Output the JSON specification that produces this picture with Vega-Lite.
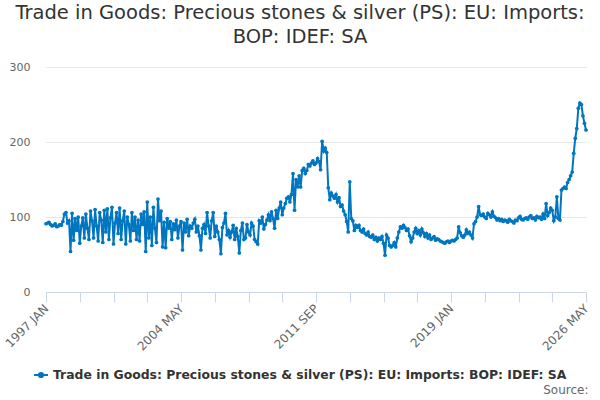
{
"$schema": "https://vega.github.io/schema/vega-lite/v6.json",
"width": 540, "height": 225,
"autosize": "none",
"padding": {"left": 46, "top": 67, "right": 14, "bottom": 108},
"background": "white",
"title": {"text": ["Trade in Goods: Precious stones & silver (PS): EU: Imports:", "BOP: IDEF: SA"], "anchor": "middle", "frame": "group", "dx": -16, "offset": 14, "font": "DejaVu Sans", "fontSize": 19.5, "fontWeight": "normal", "color": "#333333", "lineHeight": 24},
"config": {"view": {"stroke": null}},
"data": {"values": [
{"m":"1997 JAN","v":91},{"m":"1997 FEB","v":92},{"m":"1997 MAR","v":93},{"m":"1997 APR","v":90},{"m":"1997 MAY","v":88},{"m":"1997 JUN","v":89},{"m":"1997 JUL","v":91},{"m":"1997 AUG","v":87},{"m":"1997 SEP","v":88},{"m":"1997 OCT","v":90},{"m":"1997 NOV","v":89},{"m":"1997 DEC","v":94},
{"m":"1998 JAN","v":104},{"m":"1998 FEB","v":106},{"m":"1998 MAR","v":92},{"m":"1998 APR","v":95},{"m":"1998 MAY","v":54},{"m":"1998 JUN","v":105},{"m":"1998 JUL","v":69},{"m":"1998 AUG","v":98},{"m":"1998 SEP","v":82},{"m":"1998 OCT","v":100},{"m":"1998 NOV","v":65},{"m":"1998 DEC","v":88},
{"m":"1999 JAN","v":99},{"m":"1999 FEB","v":72},{"m":"1999 MAR","v":104},{"m":"1999 APR","v":85},{"m":"1999 MAY","v":70},{"m":"1999 JUN","v":108},{"m":"1999 JUL","v":95},{"m":"1999 AUG","v":72},{"m":"1999 SEP","v":110},{"m":"1999 OCT","v":88},{"m":"1999 NOV","v":68},{"m":"1999 DEC","v":106},
{"m":"2000 JAN","v":96},{"m":"2000 FEB","v":66},{"m":"2000 MAR","v":109},{"m":"2000 APR","v":80},{"m":"2000 MAY","v":111},{"m":"2000 JUN","v":70},{"m":"2000 JUL","v":99},{"m":"2000 AUG","v":113},{"m":"2000 SEP","v":64},{"m":"2000 OCT","v":92},{"m":"2000 NOV","v":106},{"m":"2000 DEC","v":78},
{"m":"2001 JAN","v":112},{"m":"2001 FEB","v":70},{"m":"2001 MAR","v":95},{"m":"2001 APR","v":108},{"m":"2001 MAY","v":64},{"m":"2001 JUN","v":100},{"m":"2001 JUL","v":90},{"m":"2001 AUG","v":68},{"m":"2001 SEP","v":106},{"m":"2001 OCT","v":82},{"m":"2001 NOV","v":100},{"m":"2001 DEC","v":70},
{"m":"2002 JAN","v":96},{"m":"2002 FEB","v":68},{"m":"2002 MAR","v":104},{"m":"2002 APR","v":90},{"m":"2002 MAY","v":107},{"m":"2002 JUN","v":54},{"m":"2002 JUL","v":120},{"m":"2002 AUG","v":72},{"m":"2002 SEP","v":100},{"m":"2002 OCT","v":62},{"m":"2002 NOV","v":113},{"m":"2002 DEC","v":85},
{"m":"2003 JAN","v":66},{"m":"2003 FEB","v":124},{"m":"2003 MAR","v":95},{"m":"2003 APR","v":108},{"m":"2003 MAY","v":60},{"m":"2003 JUN","v":93},{"m":"2003 JUL","v":59},{"m":"2003 AUG","v":98},{"m":"2003 SEP","v":85},{"m":"2003 OCT","v":94},{"m":"2003 NOV","v":70},{"m":"2003 DEC","v":91},
{"m":"2004 JAN","v":83},{"m":"2004 FEB","v":96},{"m":"2004 MAR","v":72},{"m":"2004 APR","v":88},{"m":"2004 MAY","v":94},{"m":"2004 JUN","v":56},{"m":"2004 JUL","v":92},{"m":"2004 AUG","v":80},{"m":"2004 SEP","v":97},{"m":"2004 OCT","v":75},{"m":"2004 NOV","v":88},{"m":"2004 DEC","v":85},
{"m":"2005 JAN","v":92},{"m":"2005 FEB","v":97},{"m":"2005 MAR","v":80},{"m":"2005 APR","v":88},{"m":"2005 MAY","v":75},{"m":"2005 JUN","v":56},{"m":"2005 JUL","v":85},{"m":"2005 AUG","v":90},{"m":"2005 SEP","v":78},{"m":"2005 OCT","v":106},{"m":"2005 NOV","v":88},{"m":"2005 DEC","v":72},
{"m":"2006 JAN","v":95},{"m":"2006 FEB","v":106},{"m":"2006 MAR","v":74},{"m":"2006 APR","v":88},{"m":"2006 MAY","v":80},{"m":"2006 JUN","v":70},{"m":"2006 JUL","v":51},{"m":"2006 AUG","v":86},{"m":"2006 SEP","v":92},{"m":"2006 OCT","v":105},{"m":"2006 NOV","v":76},{"m":"2006 DEC","v":82},
{"m":"2007 JAN","v":73},{"m":"2007 FEB","v":80},{"m":"2007 MAR","v":89},{"m":"2007 APR","v":70},{"m":"2007 MAY","v":85},{"m":"2007 JUN","v":74},{"m":"2007 JUL","v":52},{"m":"2007 AUG","v":82},{"m":"2007 SEP","v":92},{"m":"2007 OCT","v":70},{"m":"2007 NOV","v":72},{"m":"2007 DEC","v":90},
{"m":"2008 JAN","v":80},{"m":"2008 FEB","v":76},{"m":"2008 MAR","v":92},{"m":"2008 APR","v":88},{"m":"2008 MAY","v":70},{"m":"2008 JUN","v":67},{"m":"2008 JUL","v":64},{"m":"2008 AUG","v":95},{"m":"2008 SEP","v":92},{"m":"2008 OCT","v":100},{"m":"2008 NOV","v":84},{"m":"2008 DEC","v":90},
{"m":"2009 JAN","v":96},{"m":"2009 FEB","v":103},{"m":"2009 MAR","v":95},{"m":"2009 APR","v":107},{"m":"2009 MAY","v":98},{"m":"2009 JUN","v":85},{"m":"2009 JUL","v":109},{"m":"2009 AUG","v":98},{"m":"2009 SEP","v":112},{"m":"2009 OCT","v":120},{"m":"2009 NOV","v":103},{"m":"2009 DEC","v":112},
{"m":"2010 JAN","v":118},{"m":"2010 FEB","v":125},{"m":"2010 MAR","v":127},{"m":"2010 APR","v":120},{"m":"2010 MAY","v":130},{"m":"2010 JUN","v":158},{"m":"2010 JUL","v":109},{"m":"2010 AUG","v":150},{"m":"2010 SEP","v":140},{"m":"2010 OCT","v":155},{"m":"2010 NOV","v":140},{"m":"2010 DEC","v":162},
{"m":"2011 JAN","v":165},{"m":"2011 FEB","v":158},{"m":"2011 MAR","v":162},{"m":"2011 APR","v":170},{"m":"2011 MAY","v":168},{"m":"2011 JUN","v":172},{"m":"2011 JUL","v":175},{"m":"2011 AUG","v":170},{"m":"2011 SEP","v":172},{"m":"2011 OCT","v":178},{"m":"2011 NOV","v":174},{"m":"2011 DEC","v":163},
{"m":"2012 JAN","v":201},{"m":"2012 FEB","v":188},{"m":"2012 MAR","v":192},{"m":"2012 APR","v":186},{"m":"2012 MAY","v":139},{"m":"2012 JUN","v":123},{"m":"2012 JUL","v":132},{"m":"2012 AUG","v":128},{"m":"2012 SEP","v":125},{"m":"2012 OCT","v":130},{"m":"2012 NOV","v":120},{"m":"2012 DEC","v":126},
{"m":"2013 JAN","v":114},{"m":"2013 FEB","v":116},{"m":"2013 MAR","v":108},{"m":"2013 APR","v":103},{"m":"2013 MAY","v":94},{"m":"2013 JUN","v":80},{"m":"2013 JUL","v":147},{"m":"2013 AUG","v":98},{"m":"2013 SEP","v":95},{"m":"2013 OCT","v":82},{"m":"2013 NOV","v":89},{"m":"2013 DEC","v":86},
{"m":"2014 JAN","v":89},{"m":"2014 FEB","v":82},{"m":"2014 MAR","v":80},{"m":"2014 APR","v":84},{"m":"2014 MAY","v":78},{"m":"2014 JUN","v":76},{"m":"2014 JUL","v":80},{"m":"2014 AUG","v":74},{"m":"2014 SEP","v":73},{"m":"2014 OCT","v":76},{"m":"2014 NOV","v":70},{"m":"2014 DEC","v":73},
{"m":"2015 JAN","v":68},{"m":"2015 FEB","v":72},{"m":"2015 MAR","v":70},{"m":"2015 APR","v":74},{"m":"2015 MAY","v":65},{"m":"2015 JUN","v":49},{"m":"2015 JUL","v":76},{"m":"2015 AUG","v":72},{"m":"2015 SEP","v":62},{"m":"2015 OCT","v":60},{"m":"2015 NOV","v":62},{"m":"2015 DEC","v":66},
{"m":"2016 JAN","v":60},{"m":"2016 FEB","v":72},{"m":"2016 MAR","v":80},{"m":"2016 APR","v":87},{"m":"2016 MAY","v":85},{"m":"2016 JUN","v":89},{"m":"2016 JUL","v":86},{"m":"2016 AUG","v":82},{"m":"2016 SEP","v":84},{"m":"2016 OCT","v":75},{"m":"2016 NOV","v":67},{"m":"2016 DEC","v":72},
{"m":"2017 JAN","v":80},{"m":"2017 FEB","v":85},{"m":"2017 MAR","v":78},{"m":"2017 APR","v":82},{"m":"2017 MAY","v":76},{"m":"2017 JUN","v":84},{"m":"2017 JUL","v":79},{"m":"2017 AUG","v":74},{"m":"2017 SEP","v":78},{"m":"2017 OCT","v":72},{"m":"2017 NOV","v":76},{"m":"2017 DEC","v":70},
{"m":"2018 JAN","v":72},{"m":"2018 FEB","v":74},{"m":"2018 MAR","v":69},{"m":"2018 APR","v":71},{"m":"2018 MAY","v":70},{"m":"2018 JUN","v":68},{"m":"2018 JUL","v":67},{"m":"2018 AUG","v":66},{"m":"2018 SEP","v":65},{"m":"2018 OCT","v":67},{"m":"2018 NOV","v":68},{"m":"2018 DEC","v":66},
{"m":"2019 JAN","v":68},{"m":"2019 FEB","v":69},{"m":"2019 MAR","v":68},{"m":"2019 APR","v":70},{"m":"2019 MAY","v":72},{"m":"2019 JUN","v":87},{"m":"2019 JUL","v":79},{"m":"2019 AUG","v":75},{"m":"2019 SEP","v":73},{"m":"2019 OCT","v":76},{"m":"2019 NOV","v":83},{"m":"2019 DEC","v":78},
{"m":"2020 JAN","v":80},{"m":"2020 FEB","v":76},{"m":"2020 MAR","v":72},{"m":"2020 APR","v":91},{"m":"2020 MAY","v":94},{"m":"2020 JUN","v":100},{"m":"2020 JUL","v":114},{"m":"2020 AUG","v":103},{"m":"2020 SEP","v":102},{"m":"2020 OCT","v":104},{"m":"2020 NOV","v":100},{"m":"2020 DEC","v":98},
{"m":"2021 JAN","v":105},{"m":"2021 FEB","v":103},{"m":"2021 MAR","v":100},{"m":"2021 APR","v":107},{"m":"2021 MAY","v":101},{"m":"2021 JUN","v":99},{"m":"2021 JUL","v":96},{"m":"2021 AUG","v":98},{"m":"2021 SEP","v":95},{"m":"2021 OCT","v":97},{"m":"2021 NOV","v":94},{"m":"2021 DEC","v":96},
{"m":"2022 JAN","v":95},{"m":"2022 FEB","v":93},{"m":"2022 MAR","v":97},{"m":"2022 APR","v":95},{"m":"2022 MAY","v":94},{"m":"2022 JUN","v":92},{"m":"2022 JUL","v":96},{"m":"2022 AUG","v":95},{"m":"2022 SEP","v":99},{"m":"2022 OCT","v":101},{"m":"2022 NOV","v":97},{"m":"2022 DEC","v":96},
{"m":"2023 JAN","v":98},{"m":"2023 FEB","v":99},{"m":"2023 MAR","v":97},{"m":"2023 APR","v":100},{"m":"2023 MAY","v":102},{"m":"2023 JUN","v":98},{"m":"2023 JUL","v":99},{"m":"2023 AUG","v":96},{"m":"2023 SEP","v":101},{"m":"2023 OCT","v":99},{"m":"2023 NOV","v":100},{"m":"2023 DEC","v":97},
{"m":"2024 JAN","v":104},{"m":"2024 FEB","v":98},{"m":"2024 MAR","v":118},{"m":"2024 APR","v":102},{"m":"2024 MAY","v":106},{"m":"2024 JUN","v":112},{"m":"2024 JUL","v":109},{"m":"2024 AUG","v":95},{"m":"2024 SEP","v":100},{"m":"2024 OCT","v":127},{"m":"2024 NOV","v":98},{"m":"2024 DEC","v":96},
{"m":"2025 JAN","v":136},{"m":"2025 FEB","v":138},{"m":"2025 MAR","v":140},{"m":"2025 APR","v":138},{"m":"2025 MAY","v":146},{"m":"2025 JUN","v":150},{"m":"2025 JUL","v":155},{"m":"2025 AUG","v":160},{"m":"2025 SEP","v":185},{"m":"2025 OCT","v":205},{"m":"2025 NOV","v":218},{"m":"2025 DEC","v":245},
{"m":"2026 JAN","v":252},{"m":"2026 FEB","v":250},{"m":"2026 MAR","v":235},{"m":"2026 APR","v":225},{"m":"2026 MAY","v":216}
]},
"mark": {"type": "line", "strokeWidth": 2, "point": {"size": 14, "filled": true}},
"encoding": {
  "x": {"field": "m", "type": "ordinal", "sort": null, "scale": {"type": "point", "padding": 0},
    "axis": {"values": ["1997 JAN","1998 NOV","2000 SEP","2002 JUL","2004 MAY","2006 MAR","2008 JAN","2009 NOV","2011 SEP","2013 JUL","2015 MAY","2017 MAR","2019 JAN","2020 NOV","2022 SEP","2024 JUL","2026 MAY"],
      "labelExpr": "indexof(['1997 JAN','2004 MAY','2011 SEP','2019 JAN','2026 MAY'], datum.value) >= 0 ? datum.value : ''",
      "labelAngle": -45, "labelAlign": "right", "labelBaseline": "middle", "labelFont": "DejaVu Sans", "labelFontSize": 12, "labelColor": "#666666", "labelPadding": 4,
      "tickColor": "#ccd6eb", "tickSize": 10, "domainColor": "#ccd6eb", "grid": false,
      "title": "Source:", "titleX": 542, "titleY": 101, "titleAlign": "right", "titleBaseline": "alphabetic", "titleFont": "DejaVu Sans", "titleFontWeight": "normal", "titleFontSize": 12, "titleColor": "#666666"}},
  "y": {"field": "v", "type": "quantitative", "scale": {"domain": [0, 300]},
    "axis": {"values": [0, 100, 200, 300], "domain": false, "ticks": false, "grid": true, "gridColor": "#e6e6e6", "labelFont": "DejaVu Sans", "labelFontSize": 11, "labelColor": "#666666", "labelPadding": 16, "title": null}},
  "color": {"datum": "Trade in Goods: Precious stones & silver (PS): EU: Imports: BOP: IDEF: SA", "type": "nominal", "scale": {"range": ["#0076c0"]},
    "legend": {"orient": "none", "legendX": -13, "legendY": 300, "title": null, "labelFont": "DejaVu Sans", "labelFontWeight": "bold", "labelFontSize": 12.4, "labelColor": "#333333", "labelLimit": 700,
      "symbolType": "M-1,0H1M-0.3,0A0.3,0.3 0 1,0 0.3,0A0.3,0.3 0 1,0 -0.3,0", "symbolSize": 196, "symbolStrokeWidth": 2, "symbolFillColor": "#0076c0", "symbolStrokeColor": "#0076c0"}}
}
}
